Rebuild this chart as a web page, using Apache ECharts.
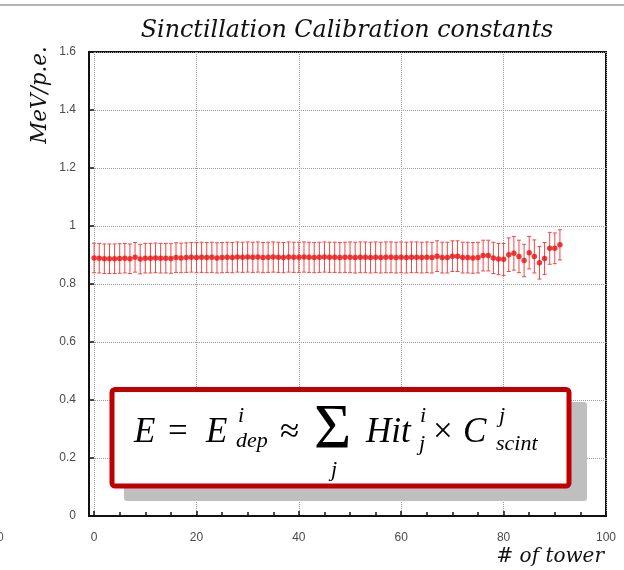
<!DOCTYPE html>
<html>
<head>
<meta charset="utf-8">
<script src="https://cdn.jsdelivr.net/npm/echarts@6/dist/echarts.min.js"></script>
<style>html,body{margin:0;padding:0;background:#fff}#c{width:624px;height:570px}</style>
</head>
<body>
<div id="c"></div>
<script>
// tower index
const towers = [];
for (let i = 0; i <= 91; i++) towers.push(i);
// calibration constant (MeV/p.e.)
const constants = [
  0.890, 0.889, 0.887, 0.887, 0.887, 0.888, 0.889, 0.887, 0.892, 0.886,
  0.889, 0.889, 0.890, 0.889, 0.889, 0.888, 0.891, 0.890, 0.891, 0.892,
  0.891, 0.892, 0.891, 0.892, 0.890, 0.891, 0.892, 0.891, 0.893, 0.892,
  0.893, 0.892, 0.893, 0.891, 0.892, 0.893, 0.892, 0.891, 0.893, 0.892,
  0.892, 0.893, 0.892, 0.891, 0.892, 0.893, 0.892, 0.892, 0.891, 0.892,
  0.892, 0.891, 0.892, 0.892, 0.891, 0.892, 0.891, 0.892, 0.892, 0.891,
  0.892, 0.891, 0.892, 0.892, 0.891, 0.892, 0.891, 0.896, 0.891, 0.891,
  0.896, 0.896, 0.891, 0.891, 0.890, 0.891, 0.898, 0.898, 0.890, 0.886,
  0.885, 0.901, 0.906, 0.895, 0.881, 0.908, 0.895, 0.873, 0.888, 0.923,
  0.923, 0.935
];
// errors
const errors = [
  0.051, 0.051, 0.051, 0.051, 0.051, 0.051, 0.051, 0.051, 0.051, 0.051,
  0.051, 0.051, 0.051, 0.051, 0.051, 0.051, 0.051, 0.051, 0.051, 0.051,
  0.052, 0.052, 0.052, 0.052, 0.052, 0.052, 0.052, 0.052, 0.052, 0.052,
  0.052, 0.052, 0.052, 0.052, 0.052, 0.052, 0.052, 0.052, 0.052, 0.052,
  0.052, 0.052, 0.052, 0.052, 0.052, 0.052, 0.052, 0.052, 0.052, 0.052,
  0.053, 0.053, 0.053, 0.053, 0.053, 0.053, 0.053, 0.053, 0.053, 0.053,
  0.053, 0.053, 0.053, 0.053, 0.053, 0.053, 0.053, 0.053, 0.053, 0.053,
  0.053, 0.053, 0.053, 0.053, 0.053, 0.053, 0.053, 0.053, 0.054, 0.054,
  0.055, 0.058, 0.058, 0.056, 0.056, 0.056, 0.057, 0.056, 0.055, 0.055,
  0.053, 0.052
];
const xMajorTicks = [0, 20, 40, 60, 80, 100];
const xMinorTicks = [0,5,10,15,20,25,30,35,40,45,50,55,60,65,70,75,80,85,90,95,100];

const pts = towers.map((t, i) => [t, constants[i]]);
const bars = towers.map((t, i) => [t, constants[i] - errors[i], constants[i] + errors[i]]);

const chart = echarts.init(document.getElementById('c'), null, {renderer: 'canvas'});
const labelStyle = {color: '#4a4a4a', fontSize: 12, fontFamily: 'Liberation Sans, Arial, sans-serif'};
const serifI = 'DejaVu Serif';
const mathF = 'Liberation Serif';

function t(text, x, y, size, italic, extra) {
  return Object.assign({
    type: 'text', x: x, y: y, z: 110,
    style: {text: text, fill: '#000', fontSize: size, fontFamily: mathF,
      fontStyle: italic ? 'italic' : 'normal', verticalAlign: 'middle', align: 'left'}
  }, extra || {});
}

chart.setOption({
  animation: false,
  backgroundColor: '#fff',
  title: {
    text: 'Sinctillation Calibration constants',
    left: 342, top: 14, textAlign: 'center',
    textStyle: {fontFamily: serifI, fontStyle: 'italic', fontWeight: 'normal', fontSize: 23.8, color: '#111'}
  },
  grid: {left: 89, right: 18, top: 52, bottom: 54, show: true, borderColor: '#111', borderWidth: 2, backgroundColor: 'transparent'},
  xAxis: [{
    type: 'value', min: -1, max: 100, position: 'bottom',
    axisLine: {show: true, onZero: false, lineStyle: {color: '#111', width: 2}},
    axisTick: {show: true, inside: true, length: 4, customValues: xMinorTicks, lineStyle: {color: '#111', width: 1.5}},
    axisLabel: {show: true, customValues: xMajorTicks, margin: 16, ...labelStyle},
    splitLine: {show: false}
  }, {
    type: 'value', min: -1, max: 100, position: 'bottom',
    axisLine: {show: false, onZero: false},
    axisTick: {show: true, inside: true, length: 5, customValues: xMajorTicks, lineStyle: {color: '#111', width: 1.5}},
    axisLabel: {show: false},
    splitLine: {show: true, lineStyle: {color: '#9a9a9a', type: 'dotted', width: 1}}
  }],
  yAxis: {
    type: 'value', min: 0, max: 1.6, interval: 0.2,
    axisLine: {show: true, onZero: false, lineStyle: {color: '#111', width: 2}},
    axisTick: {show: true, inside: true, length: 5, lineStyle: {color: '#111', width: 1.5}},
    axisLabel: {margin: 13, ...labelStyle},
    splitLine: {show: true, lineStyle: {color: '#9a9a9a', type: 'dotted', width: 1}}
  },
  series: [{
    type: 'custom',
    xAxisIndex: 0,
    data: bars,
    renderItem: function (params, api) {
      const x = api.value(0);
      const lo = api.coord([x, api.value(1)]);
      const hi = api.coord([x, api.value(2)]);
      const c = 2;
      const st = {stroke: '#f04848', lineWidth: 1};
      return {type: 'group', children: [
        {type: 'line', shape: {x1: lo[0], y1: lo[1], x2: hi[0], y2: hi[1]}, style: st},
        {type: 'line', shape: {x1: lo[0] - c, y1: lo[1], x2: lo[0] + c, y2: lo[1]}, style: st},
        {type: 'line', shape: {x1: hi[0] - c, y1: hi[1], x2: hi[0] + c, y2: hi[1]}, style: st}
      ]};
    },
    z: 2
  }, {
    type: 'scatter',
    xAxisIndex: 0,
    data: pts,
    symbol: 'circle',
    symbolSize: 5.5,
    itemStyle: {color: '#ee0d0d'},
    z: 3
  }],
  graphic: [
    {type: 'line', z: 100, shape: {x1: 0, y1: 5, x2: 624, y2: 5}, style: {stroke: '#b5b5b5', lineWidth: 2}},
    {type: 'text', z: 100, x: 40, y: 95, rotation: Math.PI / 2,
      style: {text: 'MeV/p.e.', fontFamily: serifI, fontStyle: 'italic', fontSize: 21.5, fill: '#111', align: 'center', verticalAlign: 'middle'}},
    {type: 'text', z: 100, x: 604, y: 557,
      style: {text: '# of tower', fontFamily: serifI, fontStyle: 'italic', fontSize: 20, fill: '#111', align: 'right', verticalAlign: 'middle'}},
    {type: 'text', z: 100, x: -3, y: 538,
      style: {text: '0', fontFamily: 'Liberation Sans, Arial, sans-serif', fontSize: 12, fill: '#555', align: 'left', verticalAlign: 'middle'}},
    {type: 'rect', z: 100, shape: {x: 124, y: 402, width: 463, height: 99, r: 3}, style: {fill: '#bfbfbf'}},
    {type: 'rect', z: 105, shape: {x: 112, y: 389.5, width: 457, height: 96.5, r: 3}, style: {fill: '#fff', stroke: '#c00000', lineWidth: 5}},
    t('E', 134, 433, 35, true),
    t('=', 168, 433, 35, false),
    t('E', 206, 433, 35, true),
    t('i', 238, 416, 22, true),
    t('dep', 236, 441, 22, true),
    t('\u2248', 280, 433, 35, false),
    t('\u03A3', 314, 431, 64, false),
    t('j', 331, 470, 22, true),
    t('Hit', 366, 433, 35, true),
    t('i', 420, 416, 22, true),
    t('j', 419, 444, 22, true),
    t('\u00D7', 433, 433, 35, false),
    t('C', 463, 433, 35, true),
    t('j', 499, 416, 22, true),
    t('scint', 496, 444, 22, true)
  ]
});
</script>
</body>
</html>
